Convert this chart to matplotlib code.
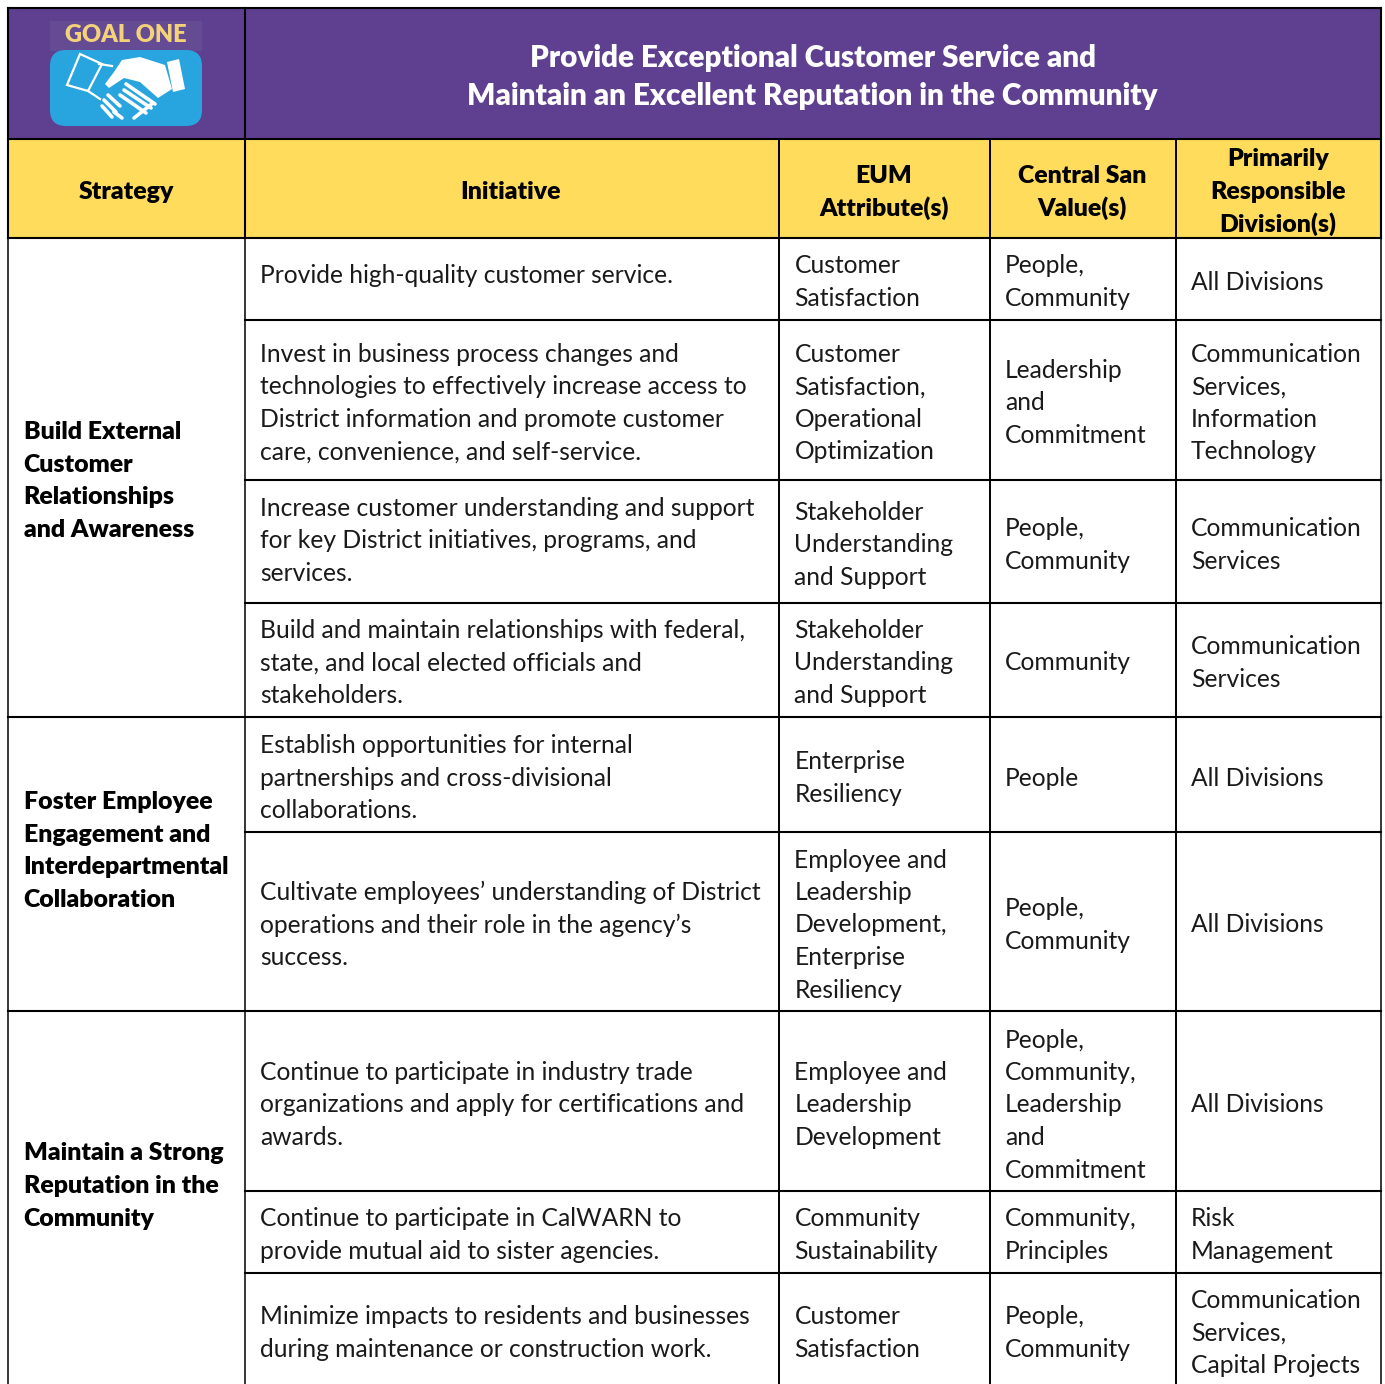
#!/usr/bin/env python3
"""Goal One strategy table, drawn on a pixel-sized axes."""
import matplotlib
matplotlib.use('Agg')
import matplotlib.pyplot as plt
from matplotlib.patches import FancyBboxPatch, Polygon, Rectangle

PURPLE = '#5f3f90'
YELLOW = '#ffdc5c'
BLUE = '#28a5df'
GOLD = '#f3d27a'
INK = '#000000'
TEXT = '#1a1a1a'
FONT = 'Lato'
W, H = 1385, 1384
FS = 17.75
FS_BOLD = 17.9
STEP = 32.5
BOLD = 800

title_lines = ['Provide Exceptional Customer Service and',
               'Maintain an Excellent Reputation in the Community']
headers = [['Strategy'], ['Initiative'], ['EUM', 'Attribute(s)'],
           ['Central San', 'Value(s)'],
           ['Primarily', 'Responsible', 'Division(s)']]

strategies = [
    ['Build External', 'Customer', 'Relationships', 'and Awareness'],
    ['Foster Employee', 'Engagement and', 'Interdepartmental', 'Collaboration'],
    ['Maintain a Strong', 'Reputation in the', 'Community'],
]
strategy_y = [479, 849, 1184]

initiatives = [
    ['Provide high-quality customer service.'],
    ['Invest in business process changes and',
     'technologies to effectively increase access to',
     'District information and promote customer',
     'care, convenience, and self-service.'],
    ['Increase customer understanding and support',
     'for key District initiatives, programs, and', 'services.'],
    ['Build and maintain relationships with federal,',
     'state, and local elected officials and', 'stakeholders.'],
    ['Establish opportunities for internal',
     'partnerships and cross-divisional', 'collaborations.'],
    ['Cultivate employees\u2019 understanding of District',
     'operations and their role in the agency\u2019s', 'success.'],
    ['Continue to participate in industry trade',
     'organizations and apply for certifications and', 'awards.'],
    ['Continue to participate in CalWARN to',
     'provide mutual aid to sister agencies.'],
    ['Minimize impacts to residents and businesses',
     'during maintenance or construction work.'],
]
attributes = [
    ['Customer', 'Satisfaction'],
    ['Customer', 'Satisfaction,', 'Operational', 'Optimization'],
    ['Stakeholder', 'Understanding', 'and Support'],
    ['Stakeholder', 'Understanding', 'and Support'],
    ['Enterprise', 'Resiliency'],
    ['Employee and', 'Leadership', 'Development,', 'Enterprise', 'Resiliency'],
    ['Employee and', 'Leadership', 'Development'],
    ['Community', 'Sustainability'],
    ['Customer', 'Satisfaction'],
]
values = [
    ['People,', 'Community'],
    ['Leadership', 'and', 'Commitment'],
    ['People,', 'Community'],
    ['Community'],
    ['People'],
    ['People,', 'Community'],
    ['People,', 'Community,', 'Leadership', 'and', 'Commitment'],
    ['Community,', 'Principles'],
    ['People,', 'Community'],
]
divisions = [
    ['All Divisions'],
    ['Communication', 'Services,', 'Information', 'Technology'],
    ['Communication', 'Services'],
    ['Communication', 'Services'],
    ['All Divisions'],
    ['All Divisions'],
    ['All Divisions'],
    ['Risk', 'Management'],
    ['Communication', 'Services,', 'Capital Projects'],
]
# vertical centre of the text block per row: initiative, then the other columns
initiative_y = [273.5, 401, 539, 661, 776, 923, 1103, 1233, 1331]
other_y = [280, 401, 543, 661, 776, 923, 1103, 1233, 1331]

COL_X = [8, 245, 779, 990, 1176, 1381]
ROW_Y = [320, 480, 603, 717, 832, 1011, 1191, 1273]
STRAT_Y = [717, 1011]


def block(ax, x, yc, lines, ha='left', bold=False, fs=FS, c=TEXT, step=STEP):
    y0 = yc - step * (len(lines) - 1) / 2
    for i, t in enumerate(lines):
        ax.text(x, y0 + i * step, t, ha=ha, va='center_baseline', fontsize=fs,
                color=c, family=FONT, fontweight=BOLD if bold else 'normal',
                zorder=5)


def logo(ax):
    ax.add_patch(Rectangle((50, 21), 152, 30, facecolor='#644b93', edgecolor='none', zorder=2))
    ax.text(125.5, 35.5, 'GOAL ONE', ha='center', va='center', fontsize=17.0,
            family=FONT, fontweight=BOLD, color=GOLD, zorder=3)
    ax.add_patch(FancyBboxPatch((58, 58), 136, 60,
                                boxstyle='round,pad=8,rounding_size=16',
                                facecolor=BLUE, edgecolor='none', zorder=2))
    # left cuff outline and wrist line
    ax.add_patch(Polygon([(80, 54), (102, 64), (88, 91), (67, 85)], closed=True,
                         fill=False, edgecolor='white', lw=1.6, zorder=3))
    ax.plot([99, 112], [64, 66], color='white', lw=1.6, zorder=3)
    ax.plot([88, 100], [91, 99], color='white', lw=1.6, zorder=3)
    # right cuff and hand
    ax.add_patch(Polygon([(167, 62), (179, 59), (185, 89), (173, 92)], closed=True,
                         facecolor='white', edgecolor='none', zorder=3))
    ax.add_patch(Polygon([(122, 60), (140, 57), (165, 65), (172, 89), (158, 98),
                          (140, 82), (124, 78), (109, 88), (105, 84), (114, 72)],
                         closed=True, facecolor='white', edgecolor='none', zorder=3))
    # fingers
    for x1, y1, x2, y2 in [(126, 84, 155, 104), (124, 90, 151, 108), (120, 95, 146, 113),
                           (108, 95, 120, 106), (104, 100, 116, 112),
                           (102, 106, 112, 117), (114, 112, 122, 118), (134, 118, 153, 103)]:
        ax.plot([x1, x2], [y1, y2], color='white', lw=2.6, solid_capstyle='round', zorder=3)


def make_figure():
    fig = plt.figure(figsize=(W / 100, H / 100), dpi=100)
    ax = fig.add_axes([0, 0, 1, 1])
    ax.set_xlim(0, W)
    ax.set_ylim(H, 0)
    ax.axis('off')

    # bands
    ax.add_patch(Rectangle((8, 8), 1373, 131, facecolor=PURPLE, edgecolor='none', zorder=1))
    ax.add_patch(Rectangle((8, 139), 1373, 99, facecolor=YELLOW, edgecolor='none', zorder=1))

    # rules
    lw = 1.5
    ax.plot([8, 1381], [8, 8], color=INK, lw=lw, zorder=4)
    for y in [139, 238]:
        ax.plot([8, 1381], [y, y], color=INK, lw=lw, zorder=4)
    for y in ROW_Y:
        ax.plot([245, 1381], [y, y], color=INK, lw=lw, zorder=4)
    for y in STRAT_Y:
        ax.plot([8, 245], [y, y], color=INK, lw=lw, zorder=4)
    for x in [8, 245, 1381]:
        ax.plot([x, x], [8, 238], color=INK, lw=lw, zorder=4)
        ax.plot([x, x], [238, H], color=INK, lw=1.1, zorder=4)
    for x in COL_X[2:5]:
        ax.plot([x, x], [139, H], color=INK, lw=1.4, zorder=4)

    logo(ax)
    block(ax, 812.5, 74.5, title_lines, ha='center', bold=True, fs=21.3, c='white', step=39)
    ax_lines = [(126, 190, 0), (511, 190, 1), (884, 190, 2), (1082, 190, 3), (1278, 190, 4)]
    for x, y, i in ax_lines:
        block(ax, x, y, headers[i], ha='center', bold=True, c=INK, fs=FS_BOLD)

    for lines, y in zip(strategies, strategy_y):
        block(ax, 23.5, y, lines, bold=True, c=INK, fs=FS_BOLD)
    for i in range(9):
        block(ax, 260, initiative_y[i], initiatives[i])
        block(ax, 794.5, other_y[i], attributes[i])
        block(ax, 1005, other_y[i], values[i])
        block(ax, 1191, other_y[i], divisions[i])

    fig.savefig('out.png', dpi=100, facecolor='white')
    plt.close(fig)


if __name__ == '__main__':
    make_figure()
